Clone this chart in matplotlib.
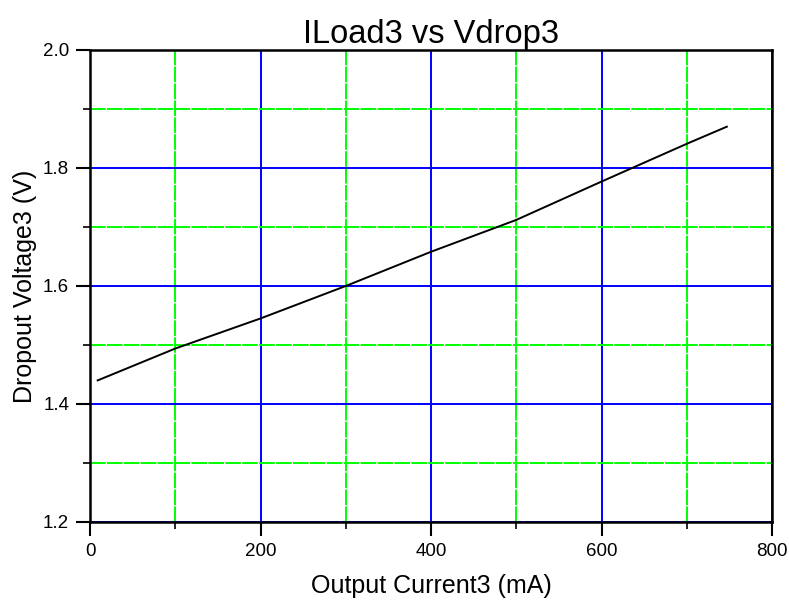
import matplotlib
matplotlib.use('Agg')
import matplotlib.pyplot as plt
from matplotlib.ticker import MultipleLocator

plt.rcParams['font.family'] = ['Liberation Sans', 'DejaVu Sans']

current_ma = [9, 100, 200, 300, 400, 500, 600, 700, 747]
vdrop_v = [1.440, 1.494, 1.545, 1.600, 1.658, 1.712, 1.777, 1.841, 1.870]

fig = plt.figure(figsize=(7.89, 6.01), dpi=100)
ax = fig.add_axes([90 / 789, 79 / 601, 682 / 789, 472 / 601])

ax.set_xlim(0, 800)
ax.set_ylim(1.2, 2.0)
ax.xaxis.set_major_locator(MultipleLocator(200))
ax.xaxis.set_minor_locator(MultipleLocator(100))
ax.yaxis.set_major_locator(MultipleLocator(0.2))
ax.yaxis.set_minor_locator(MultipleLocator(0.1))
ax.yaxis.set_major_formatter(plt.FormatStrFormatter('%.1f'))

ax.grid(True, which='major', color='#0000ff', linewidth=1.4, linestyle='-')
ax.grid(True, which='minor', color='#00ff00', linewidth=1.4, linestyle=(0, (8, 0.7)))
ax.set_axisbelow(True)

ax.plot(current_ma, vdrop_v, color='black', linewidth=1.4)

ax.tick_params(which='major', direction='out', length=10, width=1.5, labelsize=13.5, pad=5)
ax.tick_params(which='minor', direction='out', length=5, width=1.2)
for s in ax.spines.values():
    s.set_linewidth(1.8)

ax.set_title('ILoad3 vs Vdrop3', fontsize=23.5, pad=5)
ax.set_xlabel('Output Current3 (mA)', fontsize=18, labelpad=10)
ax.set_ylabel('Dropout Voltage3 (V)', fontsize=18, labelpad=4)

fig.savefig('out.png', dpi=100)
